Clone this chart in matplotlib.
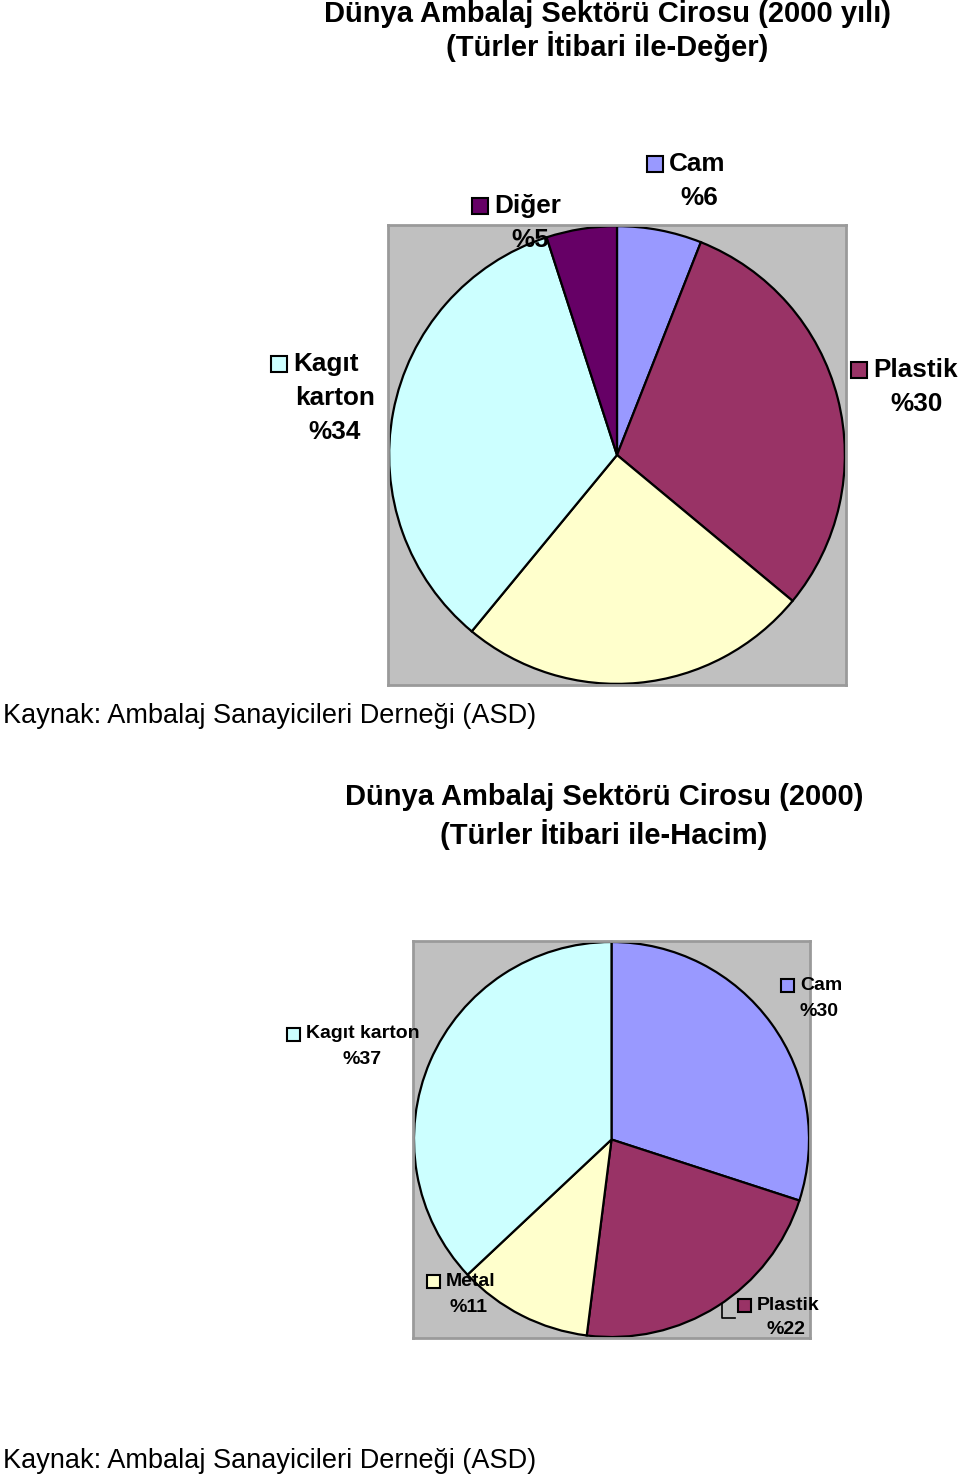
import matplotlib
matplotlib.use('Agg')
from matplotlib import pyplot as plt
from matplotlib.patches import Rectangle

plt.rcParams['font.family'] = ['Liberation Sans', 'DejaVu Sans']

W, H = 960, 1478

# value chart (2000, by type)
value_names = ['Cam', 'Plastik', 'Metal', 'Kagıt karton', 'Diğer']
value_shares = [6, 30, 25, 34, 5]
value_colors = ['#9999FF', '#993366', '#FFFFCC', '#CCFFFF', '#660066']

# volume chart (2000, by type)
volume_names = ['Cam', 'Plastik', 'Metal', 'Kagıt karton']
volume_shares = [30, 22, 11, 37]
volume_colors = ['#9999FF', '#993366', '#FFFFCC', '#CCFFFF']

title_1 = ['Dünya Ambalaj Sektörü Cirosu (2000 yılı)', '(Türler İtibari ile-Değer)']
title_2 = ['Dünya Ambalaj Sektörü Cirosu (2000)', '(Türler İtibari ile-Hacim)']
source = 'Kaynak: Ambalaj Sanayicileri Derneği (ASD)'


def fx(x):
    return x / W


def fy(y):
    return 1 - y / H


def pie_axes(fig, left, top, right, bottom):
    ax = fig.add_axes([fx(left), fy(bottom), fx(right) - fx(left),
                       fy(top) - fy(bottom)])
    return ax


def draw_pie(ax, shares, colors):
    ax.pie(shares, colors=colors, startangle=90, counterclock=False,
           radius=1.0, frame=True,
           wedgeprops=dict(edgecolor='black', linewidth=1.6))
    ax.set_xlim(-1.005, 1.005)
    ax.set_ylim(-1.005, 1.005)
    ax.set_aspect('auto')
    ax.set_facecolor('#C0C0C0')
    for s in ax.spines.values():
        s.set_color('#9A9A9A')
        s.set_linewidth(2)
    ax.set_xticks([])
    ax.set_yticks([])


def title(fig, x, y1, y2, lines):
    fig.text(fx(x), fy(y1), lines[0], fontsize=21, fontweight='bold',
             ha='center', va='center')
    fig.text(fx(x), fy(y2), lines[1], fontsize=21, fontweight='bold',
             ha='center', va='center')


def label(fig, key_x, first_y, text_x, lines, color, size, gap, key):
    # lines[0] starts after the key, the rest are centred under it
    fig.add_artist(Rectangle((fx(key_x), fy(first_y + key / 2)),
                             key / W, key / H, facecolor=color,
                             edgecolor='black', linewidth=1.5,
                             transform=fig.transFigure))
    fig.text(fx(key_x + key + 6), fy(first_y), lines[0], fontsize=size,
             fontweight='bold', ha='left', va='center')
    for i, ln in enumerate(lines[1:]):
        fig.text(fx(text_x), fy(first_y + gap * (i + 1)), ln, fontsize=size,
                 fontweight='bold', ha='center', va='center')


fig = plt.figure(figsize=(W / 100, H / 100), dpi=100)

# ---- top chart
title(fig, 607, 14, 47, title_1)
ax1 = pie_axes(fig, 388, 225, 846, 685)
draw_pie(ax1, value_shares, value_colors)
fig.text(fx(3), fy(716), source, fontsize=19.5, ha='left', va='center')

label(fig, 647, 164, 699, ['Cam', '%6'], value_colors[0], 18.8, 34, 16)
label(fig, 472, 206, 530, ['Diğer', '%5'], value_colors[4], 18.8, 34, 16)
label(fig, 271, 364, 335, ['Kagıt', 'karton', '%34'], value_colors[3], 18.8, 34, 16)
label(fig, 851, 370, 917, ['Plastik', '%30'], value_colors[1], 18.8, 34, 16)

# ---- bottom chart
title(fig, 604, 797, 834, title_2)
ax2 = pie_axes(fig, 413, 941, 810, 1338)
draw_pie(ax2, volume_shares, volume_colors)
fig.text(fx(3), fy(1461), source, fontsize=19.5, ha='left', va='center')

label(fig, 781, 985, 819, ['Cam', '%30'], volume_colors[0], 14, 26, 13)
label(fig, 287, 1034, 362, ['Kagıt karton', '%37'], volume_colors[3], 14, 25, 13)
label(fig, 427, 1281, 469, ['Metal', '%11'], volume_colors[2], 14, 26, 13)
label(fig, 738, 1305, 786, ['Plastik', '%22'], volume_colors[1], 14, 25, 13)
# leader line for Plastik
fig.add_artist(plt.Line2D([fx(722), fx(722), fx(735)],
                          [fy(1304), fy(1318), fy(1318)], color='black',
                          linewidth=1.2))

fig.savefig('out.png', dpi=100, facecolor='white')
